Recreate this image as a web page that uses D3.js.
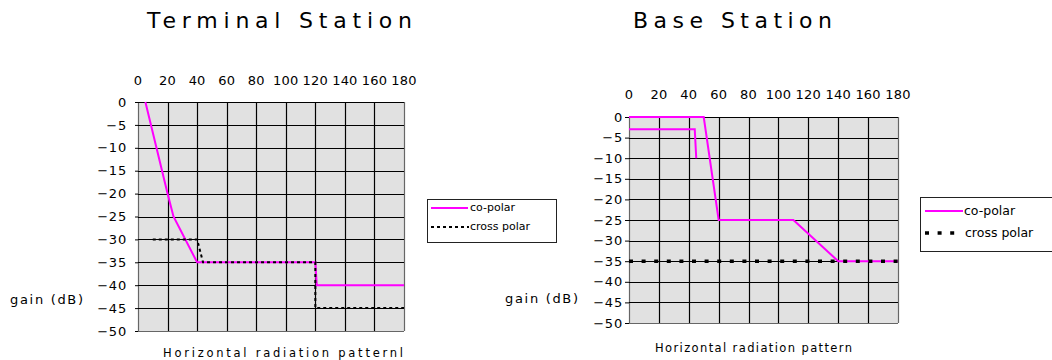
<!DOCTYPE html>
<html><head><meta charset="utf-8">
<script src="https://cdn.jsdelivr.net/npm/d3@7"></script>
<style>
body{margin:0;background:#fff;}
svg{display:block;font-family:"DejaVu Sans",sans-serif;}
</style></head>
<body><svg id="c" width="1052" height="360"></svg>
<script>
// ---- data ----
const xTicks = [0,20,40,60,80,100,120,140,160,180];
const yTicks = [0,-5,-10,-15,-20,-25,-30,-35,-40,-45,-50];

const termCoX    = [5, 20, 24, 40, 120, 121, 180];
const termCoY    = [0, -20, -25, -35, -35, -40, -40];
const termCrossX = [10, 40, 44, 120, 120, 180];
const termCrossY = [-30, -30, -35, -35, -45, -45];

const baseCoX    = [0, 50, 60, 110, 140, 180, null, 0, 44, 45];
const baseCoY    = [0, 0, -25, -25, -35, -35, null, -3, -3, -10];
const baseCrossX = [0, 180];
const baseCrossY = [-35, -35];

const legendLabels = ["co-polar", "cross polar"];

const svg = d3.select("#c");
const MAG = "#ff00ff";

function zip(xs, ys){ return xs.map((x,i)=>({x:x, y:ys[i]})); }

function panel(cfg){
  const x = d3.scaleLinear().domain([0,180]).range([cfg.x0, cfg.x1]);
  const y = d3.scaleLinear().domain([0,-50]).range([cfg.y0, cfg.y1]);
  const g = svg.append("g");
  g.append("rect").attr("x",cfg.x0).attr("y",cfg.y0)
    .attr("width",cfg.x1-cfg.x0).attr("height",cfg.y1-cfg.y0).attr("fill","#e1e1e1");
  // grid
  g.selectAll(".vg").data(xTicks).join("line")
    .attr("x1",d=>Math.round(x(d))+0.5).attr("x2",d=>Math.round(x(d))+0.5)
    .attr("y1",cfg.y0).attr("y2",cfg.y1)
    .attr("stroke",(d,i)=> (i===0||i===xTicks.length-1)?"#666":"#000").attr("stroke-width",1.2);
  g.selectAll(".hg").data(yTicks).join("line")
    .attr("y1",d=>Math.round(y(d))+0.5).attr("y2",d=>Math.round(y(d))+0.5)
    .attr("x1",cfg.x0).attr("x2",cfg.x1)
    .attr("stroke",(d,i)=> (i===yTicks.length-1)?"#666":"#000").attr("stroke-width",1.2);
  // y axis labels
  const ya = d3.axisLeft(y).tickValues(yTicks).tickSize(cfg.tick).tickPadding(cfg.pad);
  const yg = g.append("g").attr("transform",`translate(${cfg.x0},0)`).call(ya);
  yg.select(".domain").remove();
  yg.selectAll("line").attr("stroke","#000");
  yg.selectAll("text").attr("font-size",13).attr("letter-spacing",0.8).attr("fill","#000")
    .attr("font-family","DejaVu Sans");
  // top x labels
  g.selectAll(".xl").data(xTicks).join("text")
    .attr("x",d=>x(d)).attr("y",cfg.xLabY).attr("text-anchor","middle")
    .attr("dominant-baseline","middle").attr("font-size",13).attr("letter-spacing",0.2)
    .attr("fill","#000").text(d=>d);
  // title
  g.append("text").attr("x",cfg.titleX).attr("y",22).attr("dominant-baseline","middle")
    .attr("font-size",22).attr("fill","#000")
    .attr("textLength",cfg.titleW).attr("lengthAdjust","spacing").text(cfg.title);
  g.append("text").attr("x",cfg.gainX).attr("y",cfg.gainY).attr("dominant-baseline","middle")
    .attr("font-size",13).attr("fill","#000")
    .attr("textLength",73).attr("lengthAdjust","spacing").text("gain (dB)");
  g.append("text").attr("x",cfg.axX).attr("y",cfg.axY).attr("dominant-baseline","middle")
    .attr("font-size",11.5).attr("fill","#000")
    .attr("textLength",cfg.axW).attr("lengthAdjust","spacing").text(cfg.axTitle);

  const line = d3.line().defined(d=>d.x!==null).x(d=>x(d.x)).y(d=>y(d.y));
  g.append("path").datum(zip(cfg.coX,cfg.coY)).attr("d",line)
    .attr("fill","none").attr("stroke",MAG).attr("stroke-width",2);
  g.append("path").datum(zip(cfg.crX,cfg.crY)).attr("d",line)
    .attr("fill","none").attr("stroke","#000").attr("stroke-width",cfg.crW)
    .attr("stroke-dasharray",cfg.crDash);

  // legend
  const L = cfg.leg;
  g.append("rect").attr("x",L.x+0.5).attr("y",L.y+0.5).attr("width",L.w).attr("height",L.h)
    .attr("fill","#fff").attr("stroke","#222");
  g.append("line").attr("x1",L.lx0).attr("x2",L.lx1).attr("y1",L.y1).attr("y2",L.y1)
    .attr("stroke",MAG).attr("stroke-width",2);
  g.append("line").attr("x1",L.lx0).attr("x2",L.lx1c).attr("y1",L.y2).attr("y2",L.y2)
    .attr("stroke","#000").attr("stroke-width",cfg.crW).attr("stroke-dasharray",cfg.crDash);
  g.selectAll(".lt").data(legendLabels).join("text")
    .attr("x",(d,i)=> i===0?L.tx:L.tx2).attr("y",(d,i)=>i===0?L.y1:L.y2)
    .attr("dominant-baseline","middle").attr("font-size",L.fs).attr("fill","#000").text(d=>d);
}

panel({x0:138,x1:404,y0:102,y1:331,tick:3,pad:8,xLabY:81,
  title:"Terminal Station",titleX:147,titleW:265,
  gainX:10,gainY:300,axX:163,axY:353,axW:240,axTitle:"Horizontal radiation patternl",
  coX:termCoX,coY:termCoY,crX:termCrossX,crY:termCrossY,crW:2,crDash:"3,3",
  leg:{x:427,y:199,w:129,h:43,lx0:431,lx1:468,lx1c:469,y1:208,y2:227,tx:470,tx2:470,fs:11}});

panel({x0:629,x1:898,y0:117,y1:323,tick:4,pad:2,xLabY:95,
  title:"Base Station",titleX:633,titleW:199,
  gainX:505,gainY:299,axX:655,axY:348,axW:197,axTitle:"Horizontal radiation pattern",
  coX:baseCoX,coY:baseCoY,crX:baseCrossX,crY:baseCrossY,crW:3.5,crDash:"4,8.6",
  leg:{x:920,y:197,w:160,h:54,lx0:925,lx1:963,lx1c:958,y1:211,y2:233,tx:964,tx2:965,fs:12.5}});
</script></body></html>
